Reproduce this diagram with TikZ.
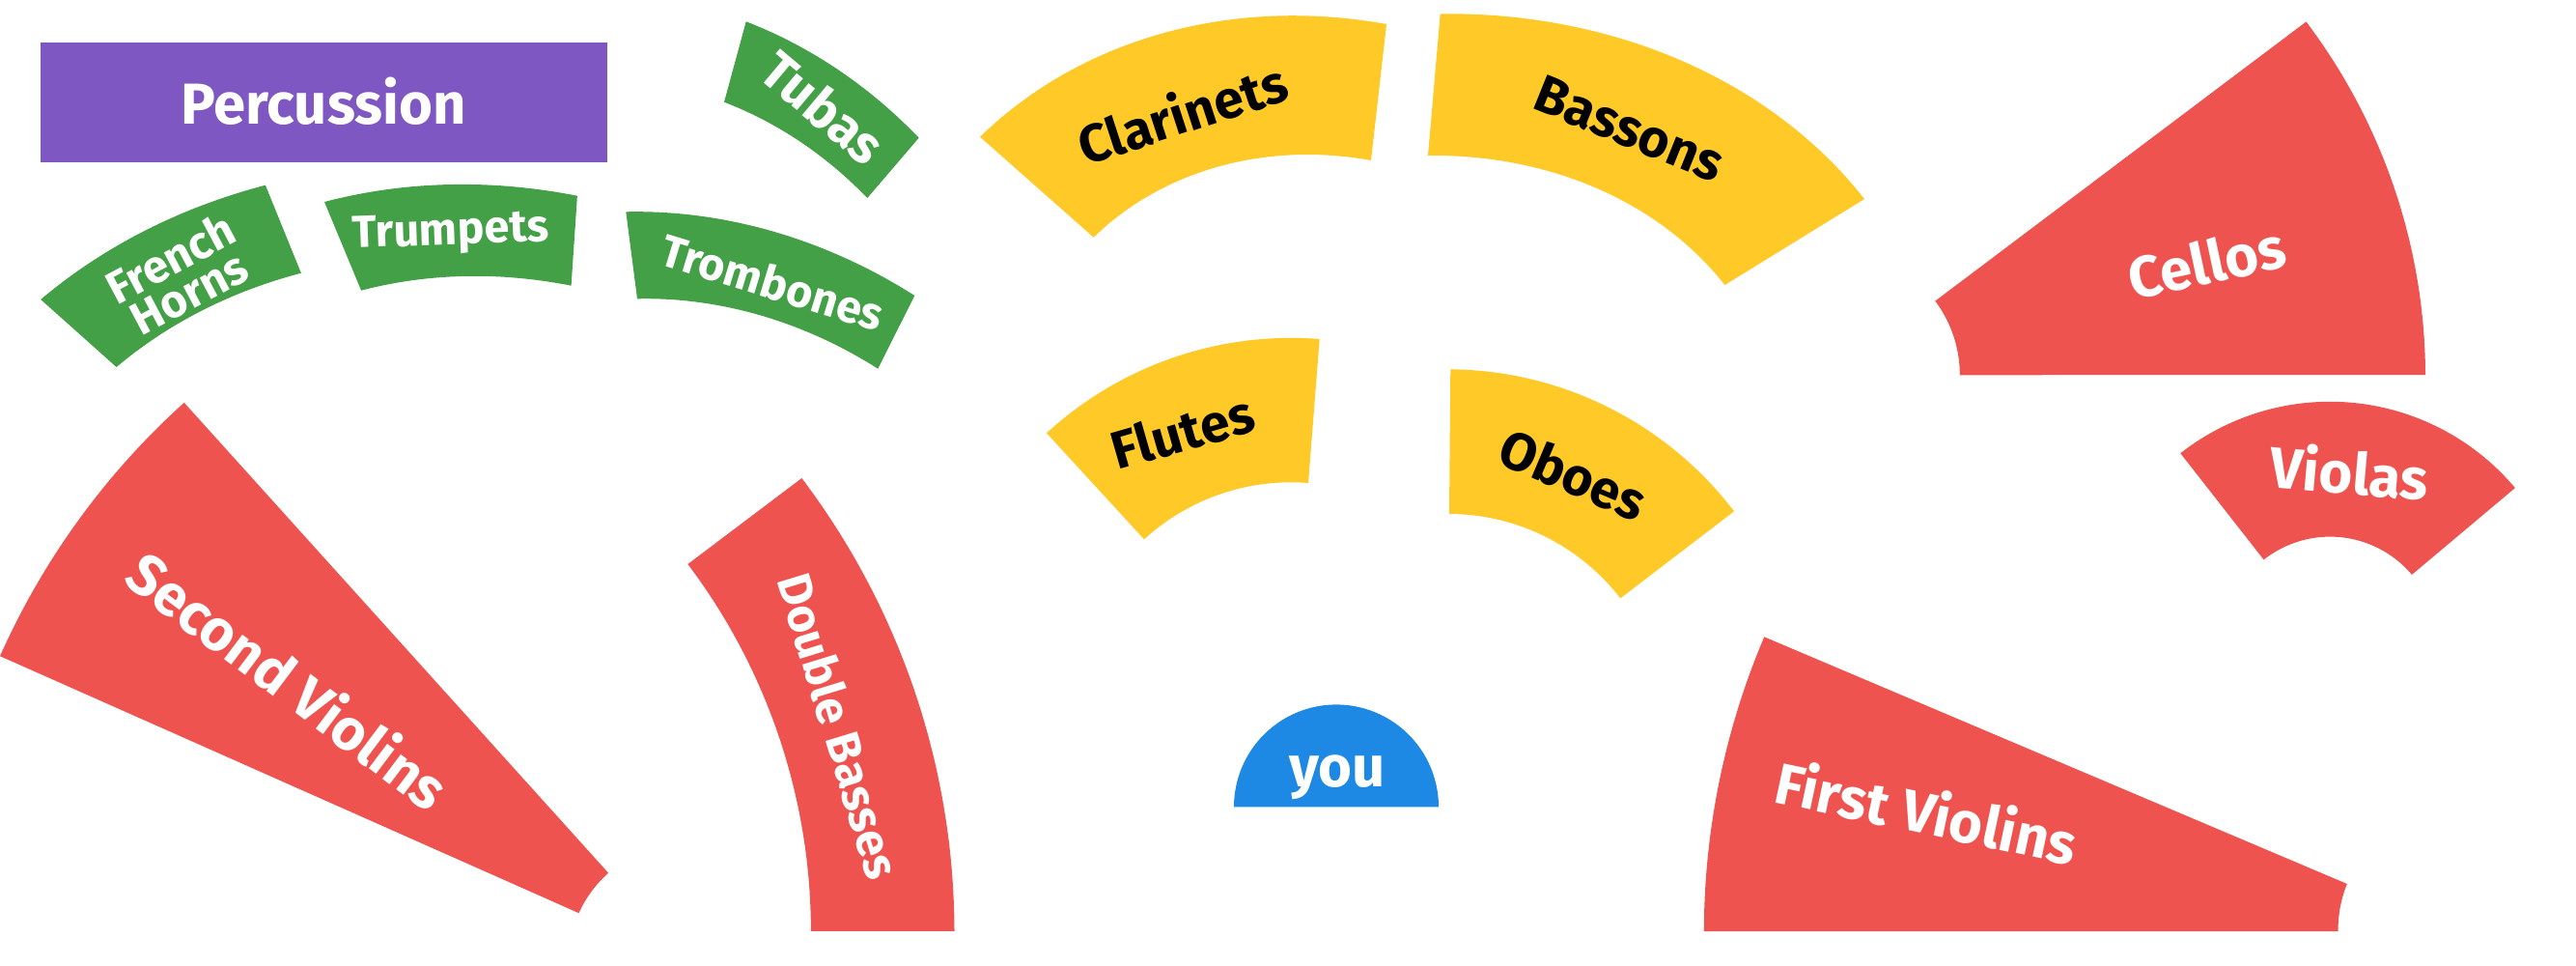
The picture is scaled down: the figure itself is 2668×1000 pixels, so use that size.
\documentclass[tikz,border=0pt]{standalone}
\usepackage{fontspec}
\setmainfont{Fira Sans}
\definecolor{cpurple}{HTML}{7E57C2}
\definecolor{cgreen}{HTML}{43A047}
\definecolor{camber}{HTML}{FFCA28}
\definecolor{cred}{HTML}{EF5350}
\definecolor{cblue}{HTML}{1E88E5}
% #1 colour, O1=(#2,#3), O2=(#4,#5), I2=(#6,#7), I1=(#8,#9)  (pixel coordinates)
\newcommand\orchsector[9]{%
  \edef\ocAx{\fpeval{(#8)-(#2)}}%
  \edef\ocAy{\fpeval{(#9)-(#3)}}%
  \edef\ocBx{\fpeval{(#6)-(#4)}}%
  \edef\ocBy{\fpeval{(#7)-(#5)}}%
  \edef\ocEx{\fpeval{(#4)-(#2)}}%
  \edef\ocEy{\fpeval{(#5)-(#3)}}%
  \edef\ocT{\fpeval{((\ocBx)*(\ocEy)-(\ocEx)*(\ocBy))/((\ocBx)*(\ocAy)-(\ocAx)*(\ocBy))}}%
  \edef\ocCx{\fpeval{round((#2)+(\ocT)*(\ocAx),2)}}%
  \edef\ocCy{\fpeval{round((#3)+(\ocT)*(\ocAy),2)}}%
  \edef\ocax{\fpeval{round((#2)-(\ocCx),2)}}%
  \edef\ocay{\fpeval{round((#3)-(\ocCy),2)}}%
  \edef\ocbx{\fpeval{round((#4)-(\ocCx),2)}}%
  \edef\ocby{\fpeval{round((#5)-(\ocCy),2)}}%
  \edef\ocLa{\fpeval{sqrt((\ocax)^2+(\ocay)^2)}}%
  \edef\ocLb{\fpeval{sqrt((\ocbx)^2+(\ocby)^2)}}%
  \edef\ocD{\fpeval{round(acosd(((\ocax)*(\ocbx)+(\ocay)*(\ocby))/((\ocLa)*(\ocLb))),3)}}%
  \edef\ocS{\fpeval{round(sind(\ocD),5)}}%
  \edef\ocKa{\fpeval{round(sqrt(((#8)-(\ocCx))^2+((#9)-(\ocCy))^2)/(\ocLa),5)}}%
  \edef\ocKb{\fpeval{round(sqrt(((#6)-(\ocCx))^2+((#7)-(\ocCy))^2)/(\ocLb),5)}}%
  \fill[#1] plot[domain=0:\ocD,samples=60,variable=\t]
     ({\ocCx+((\ocax)*sin(\ocD-\t)+(\ocbx)*sin(\t))/\ocS},
      {\ocCy+((\ocay)*sin(\ocD-\t)+(\ocby)*sin(\t))/\ocS})
   -- plot[domain=\ocD:0,samples=60,variable=\t]
     ({\ocCx+(\ocKa+(\ocKb-\ocKa)*\t/\ocD)*((\ocax)*sin(\ocD-\t)+(\ocbx)*sin(\t))/\ocS},
      {\ocCy+(\ocKa+(\ocKb-\ocKa)*\t/\ocD)*((\ocay)*sin(\ocD-\t)+(\ocby)*sin(\t))/\ocS})
   -- cycle;%
}
\tikzset{
  biglab/.style={inner sep=0pt, font=\fontsize{17}{20}\selectfont\bfseries, text height=11.7pt, text depth=0pt, text=white},
  midlab/.style={inner sep=0pt, font=\fontsize{15.6}{18}\selectfont\bfseries, text height=10.75pt, text depth=0pt, text=black},
  smalllab/.style={inner sep=0pt, font=\fontsize{13.3}{16}\selectfont\bfseries, text height=9.16pt, text depth=0pt, text=white}
}
\begin{document}
\begin{tikzpicture}[x=0.01cm,y=-0.01cm]
\useasboundingbox (0,0) rectangle (2668,1000);
\fill[white] (0,0) rectangle (2668,1000);
% percussion
\fill[cpurple] (42,44) rectangle (629,168);
% brass
\orchsector{cgreen}{274.9}{191.7}{42.2}{310}{120.6}{380}{311.9}{282.7}
\orchsector{cgreen}{336}{209}{597.9}{202.7}{591.6}{295.7}{374.1}{300.7}
\orchsector{cgreen}{648.3}{219.3}{947.3}{306}{909.3}{381.7}{660}{309.3}
\orchsector{cgreen}{772.7}{22.3}{951.7}{142.7}{898.3}{205}{750}{105.7}
% woodwinds
\orchsector{camber}{1436}{25}{1015}{141.7}{1132.7}{245.7}{1420}{166}
\orchsector{camber}{1491.7}{14.3}{1931}{206}{1786.4}{295}{1479}{161}
\orchsector{camber}{1366.7}{351}{1084}{448.3}{1185}{558.3}{1355}{500}
\orchsector{camber}{1502.3}{382.3}{1796}{529.3}{1678.3}{619.3}{1501}{532}
% strings
\orchsector{cred}{2512}{388}{2388.5}{22.5}{2004.3}{311.6}{2029.8}{388.3}
\orchsector{cred}{2604.9}{505.1}{2258.3}{469.2}{2344.6}{579.4}{2498}{594.9}
\orchsector{cred}{1827.2}{659.3}{1764.8}{964}{2421.6}{964}{2430.9}{915}
\orchsector{cred}{190.7}{416.8}{0}{679.2}{599.5}{945.2}{630.1}{903.7}
\orchsector{cred}{988.5}{963.8}{830.4}{495}{712.4}{584}{839.9}{963.8}
% you
\fill[cblue] plot[domain=0:180,samples=90] ({1384+106*cos(\x)},{835.4-106*sin(\x)}) -- cycle;
% labels
\node[biglab] (percussion) at (335,107.8) {Percussion};
\node[inner sep=0pt, align=center, text=white, font=\fontsize{13.5}{11.5}\selectfont\bfseries, rotate=28] (horns) at (186,285) {French\\Horns};
\node[smalllab, rotate=2] (trumpets) at (466.5,237) {Trumpets};
\node[smalllab, rotate=-17] (trombones) at (800,293) {Trombones};
\node[midlab, text=white, rotate=-40] (tubas) at (852,112) {Tubas};
\node[midlab, rotate=18] (clarinets) at (1225,119) {Clarinets};
\node[midlab, rotate=-22] (bassons) at (1688,133) {Bassons};
\node[midlab, rotate=16] (flutes) at (1225,448) {Flutes};
\node[midlab, rotate=-23] (oboes) at (1629,492) {Oboes};
\node[biglab, rotate=12] (cellos) at (2285.5,272.8) {Cellos};
\node[biglab, rotate=-5] (violas) at (2433.4,490.7) {Violas};
\node[biglab, rotate=-12] (first) at (1995,843) {First Violins};
\node[biglab, rotate=-37] (second) at (297.5,706) {Second Violins};
\node[inner sep=0pt, text=white, font=\fontsize{14}{17}\selectfont\bfseries, text height=9.65pt, text depth=0pt, rotate=-73] (basses) at (868,752) {Double Basses};
\node[inner sep=0pt, anchor=base, text=white, font=\fontsize{17}{20}\selectfont\bfseries] (you) at (1385,814.3) {you};
\end{tikzpicture}
\end{document}
